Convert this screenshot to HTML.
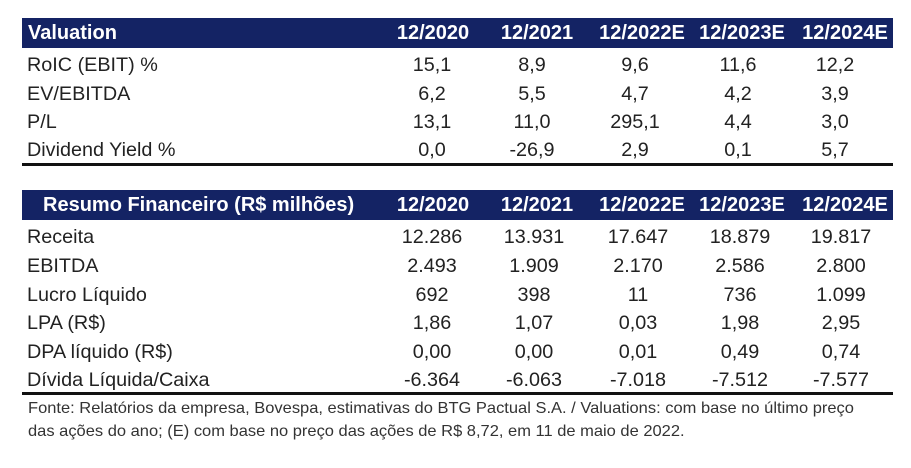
<!DOCTYPE html>
<html><head><meta charset="utf-8"><style>
body{margin:0;width:911px;height:468px;background:#fff;position:relative;font-family:"Liberation Sans",Arial,sans-serif;overflow:hidden}
.bar{position:absolute;left:22px;width:871px;height:30px;background:#142364}
.t{position:absolute;white-space:nowrap;font-size:19.8px;color:#222;line-height:22px}
.h{color:#fff;font-weight:bold;font-size:20px}
.c{transform:translateX(-50%)}
.line{position:absolute;left:22px;width:871px;height:3px;background:#111}
.foot{position:absolute;left:28px;font-size:16px;color:#333;white-space:nowrap;transform-origin:0 0;transform:scaleX(1.03)}
</style></head><body>
<div class="bar" style="top:18px"></div>
<div class="t h" style="left:28px;top:22px">Valuation</div>
<div class="t h c" style="left:433px;top:22px">12/2020</div>
<div class="t h c" style="left:537px;top:22px">12/2021</div>
<div class="t h c" style="left:642px;top:22px">12/2022E</div>
<div class="t h c" style="left:742px;top:22px">12/2023E</div>
<div class="t h c" style="left:845px;top:22px">12/2024E</div>

<div class="t" style="left:27px;top:54px">RoIC (EBIT) %</div>
<div class="t c" style="left:432px;top:54px">15,1</div><div class="t c" style="left:532px;top:54px">8,9</div><div class="t c" style="left:635px;top:54px">9,6</div><div class="t c" style="left:738px;top:54px">11,6</div><div class="t c" style="left:835px;top:54px">12,2</div>
<div class="t" style="left:27px;top:83px">EV/EBITDA</div>
<div class="t c" style="left:432px;top:83px">6,2</div><div class="t c" style="left:532px;top:83px">5,5</div><div class="t c" style="left:635px;top:83px">4,7</div><div class="t c" style="left:738px;top:83px">4,2</div><div class="t c" style="left:835px;top:83px">3,9</div>
<div class="t" style="left:27px;top:111px">P/L</div>
<div class="t c" style="left:432px;top:111px">13,1</div><div class="t c" style="left:532px;top:111px">11,0</div><div class="t c" style="left:635px;top:111px">295,1</div><div class="t c" style="left:738px;top:111px">4,4</div><div class="t c" style="left:835px;top:111px">3,0</div>
<div class="t" style="left:27px;top:139px">Dividend Yield %</div>
<div class="t c" style="left:432px;top:139px">0,0</div><div class="t c" style="left:532px;top:139px">-26,9</div><div class="t c" style="left:635px;top:139px">2,9</div><div class="t c" style="left:738px;top:139px">0,1</div><div class="t c" style="left:835px;top:139px">5,7</div>
<div class="line" style="top:163px"></div>

<div class="bar" style="top:190px"></div>
<div class="t h" style="left:43px;top:194px">Resumo Financeiro (R$ milhões)</div>
<div class="t h c" style="left:433px;top:194px">12/2020</div>
<div class="t h c" style="left:537px;top:194px">12/2021</div>
<div class="t h c" style="left:642px;top:194px">12/2022E</div>
<div class="t h c" style="left:742px;top:194px">12/2023E</div>
<div class="t h c" style="left:845px;top:194px">12/2024E</div>

<div class="t" style="left:27px;top:226px">Receita</div>
<div class="t c" style="left:432px;top:226px">12.286</div><div class="t c" style="left:534px;top:226px">13.931</div><div class="t c" style="left:638px;top:226px">17.647</div><div class="t c" style="left:740px;top:226px">18.879</div><div class="t c" style="left:841px;top:226px">19.817</div>
<div class="t" style="left:27px;top:255px">EBITDA</div>
<div class="t c" style="left:432px;top:255px">2.493</div><div class="t c" style="left:534px;top:255px">1.909</div><div class="t c" style="left:638px;top:255px">2.170</div><div class="t c" style="left:740px;top:255px">2.586</div><div class="t c" style="left:841px;top:255px">2.800</div>
<div class="t" style="left:27px;top:284px">Lucro Líquido</div>
<div class="t c" style="left:432px;top:284px">692</div><div class="t c" style="left:534px;top:284px">398</div><div class="t c" style="left:638px;top:284px">11</div><div class="t c" style="left:740px;top:284px">736</div><div class="t c" style="left:841px;top:284px">1.099</div>
<div class="t" style="left:27px;top:312px">LPA (R$)</div>
<div class="t c" style="left:432px;top:312px">1,86</div><div class="t c" style="left:534px;top:312px">1,07</div><div class="t c" style="left:638px;top:312px">0,03</div><div class="t c" style="left:740px;top:312px">1,98</div><div class="t c" style="left:841px;top:312px">2,95</div>
<div class="t" style="left:27px;top:341px">DPA líquido (R$)</div>
<div class="t c" style="left:432px;top:341px">0,00</div><div class="t c" style="left:534px;top:341px">0,00</div><div class="t c" style="left:638px;top:341px">0,01</div><div class="t c" style="left:740px;top:341px">0,49</div><div class="t c" style="left:841px;top:341px">0,74</div>
<div class="t" style="left:27px;top:369px">Dívida Líquida/Caixa</div>
<div class="t c" style="left:432px;top:369px">-6.364</div><div class="t c" style="left:534px;top:369px">-6.063</div><div class="t c" style="left:638px;top:369px">-7.018</div><div class="t c" style="left:740px;top:369px">-7.512</div><div class="t c" style="left:841px;top:369px">-7.577</div>
<div class="line" style="top:392px"></div>

<div class="foot" style="top:400px">Fonte: Relatórios da empresa, Bovespa, estimativas do BTG Pactual S.A. / Valuations: com base no último preço</div>
<div class="foot" style="top:423px">das ações do ano; (E) com base no preço das ações de R$ 8,72, em 11 de maio de 2022.</div>
</body></html>
